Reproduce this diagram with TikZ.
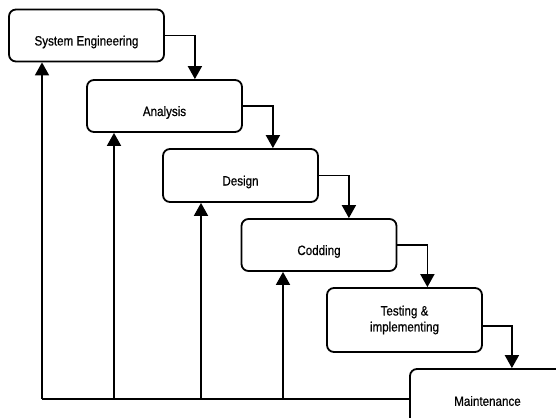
\documentclass[tikz,border=0pt]{standalone}
\usepackage{fontspec}
\setmainfont{Liberation Sans}[FakeStretch=0.86, FakeBold=0.6]
\usetikzlibrary{arrows.meta,calc}

\tikzset{
    stage/.style={draw, line width=1.8pt, rounded corners=7pt, align=center,
        minimum width=155pt, minimum height=52pt, inner sep=2pt,
        font=\fontsize{13.5}{16}\selectfont},
    low/.style={text height=20pt, text depth=0pt},
    flow/.style={line width=1.8pt, -{Triangle[length=13pt, width=14pt]}},
    back/.style={line width=1.8pt}
}

\begin{document}
\begin{tikzpicture}[x=1pt, y=-1pt]
    \useasboundingbox (0,0) rectangle (556,417);
    \clip (0,0) rectangle (556,417);

    % Stages of the waterfall
    \node [stage, low] (sys) at (86.5, 35.5) {System Engineering};
    \node [stage, low] (ana) at (164.5, 106) {Analysis};
    \node [stage, low, minimum height=53pt] (des) at (240.5, 175.5) {Design};
    \node [stage, low] (cod) at (319, 245) {Codding};
    \node [stage, minimum height=64pt] (tst) at (404.5, 320) {Testing \&\\implementing};
    \node [stage, minimum height=64pt] (mnt) at (487.5, 401) {Maintenance};

    % Forward flow
    \draw [flow] (sys.east) -- ++(30,0) coordinate (f1) -- (f1 |- ana.north);
    \draw [flow] (ana.east) -- ++(30,0) coordinate (f2) -- (f2 |- des.north);
    \draw [flow] (des.east) -- ++(30,0) coordinate (f3) -- (f3 |- cod.north);
    \draw [flow] (cod.east) -- ++(30,0) coordinate (f4) -- (f4 |- tst.north);
    \draw [flow] ([yshift=-6pt]tst.east) -- ++(29,0) coordinate (f5) -- (f5 |- mnt.north);

    % Feedback from maintenance
    \coordinate (r1) at (42, 399);
    \coordinate (r2) at (114, 399);
    \coordinate (r3) at (201, 399);
    \coordinate (r4) at (283, 399);
    \draw [back] ([yshift=2pt]mnt.west) -- (r1);
    \draw [flow] (r1) -- (r1 |- sys.south);
    \draw [flow] (r2) -- (r2 |- ana.south);
    \draw [flow] (r3) -- (r3 |- des.south);
    \draw [flow] (r4) -- (r4 |- cod.south);
\end{tikzpicture}
\end{document}
